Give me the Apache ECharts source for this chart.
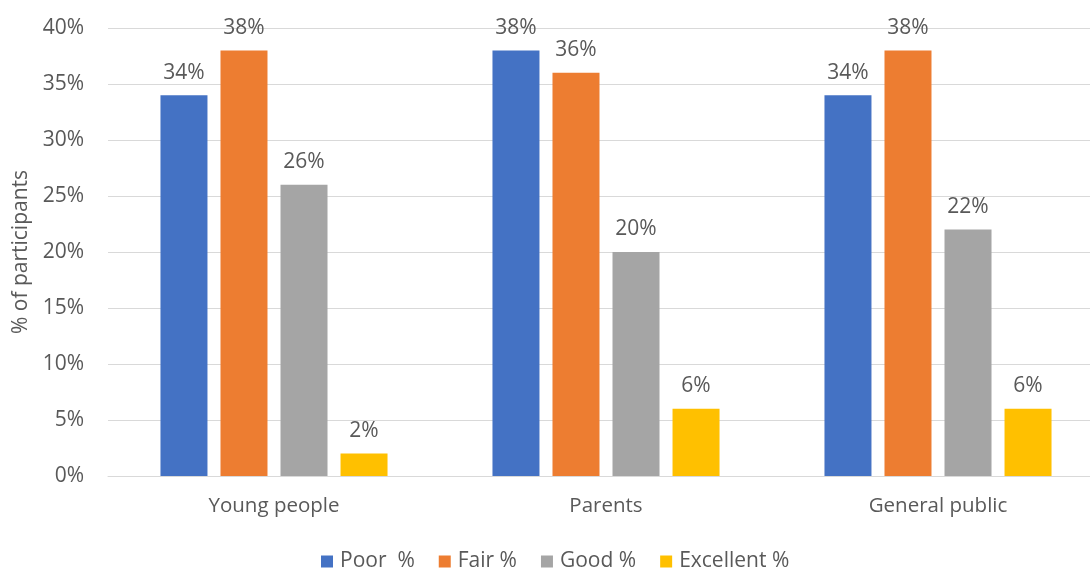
<!DOCTYPE html>
<html>
<head>
<meta charset="utf-8">
<script src="https://cdn.jsdelivr.net/npm/echarts@6/dist/echarts.min.js"></script>
<style>
  html, body { margin: 0; padding: 0; background: #fff; overflow: hidden; }
  /* the drawing surface is a little wider than the window, so the plot runs off the right edge */
  #chart { width: 1104px; height: 569px; }
</style>
</head>
<body>
<div id="chart"></div>
<script>
// Participant ratings by group
const categories = ['Young people', 'Parents', 'General public'];
const seriesNames = ['Poor  %', 'Fair %', 'Good %', 'Excellent %'];
const poor = [34, 38, 34];
const fair = [38, 36, 38];
const good = [26, 20, 22];
const excellent = [2, 6, 6];
const yTicks = [0, 5, 10, 15, 20, 25, 30, 35, 40];

const colors = ['#4472C4', '#ED7D31', '#A5A5A5', '#FFC000'];
const textColor = '#595959';
const fontFamily = '"Open Sans", "Liberation Sans", sans-serif';
const fontSize = 21;

const values = [poor, fair, good, excellent];

const chart = echarts.init(document.getElementById('chart'), null, { renderer: 'canvas' });

chart.setOption({
  animation: false,
  color: colors,
  textStyle: { fontFamily: fontFamily, color: textColor },
  grid: { left: 108, right: 0, top: 28, height: 448, containLabel: false },
  legend: {
    data: seriesNames,
    left: 321,
    top: 551,
    padding: 0,
    itemWidth: 12,
    itemHeight: 12,
    itemGap: 24,
    icon: 'rect',
    textStyle: { fontSize: 21, color: textColor, fontFamily: fontFamily, padding: [0, 0, 0, 2] }
  },
  xAxis: {
    type: 'category',
    data: categories,
    axisTick: { show: false },
    axisLine: { show: true, lineStyle: { color: '#D9D9D9', width: 1 } },
    axisLabel: { fontSize: 20.5, color: textColor, margin: 20, fontFamily: fontFamily }
  },
  yAxis: {
    type: 'value',
    min: yTicks[0],
    max: yTicks[yTicks.length - 1],
    interval: yTicks[1] - yTicks[0],
    name: '% of participants',
    nameLocation: 'middle',
    nameGap: 76,
    nameRotate: 90,
    nameTextStyle: { fontSize: fontSize, color: textColor, fontFamily: fontFamily },
    axisLine: { show: false },
    axisTick: { show: false },
    axisLabel: { fontSize: fontSize, color: textColor, margin: 24, formatter: '{value}%', fontFamily: fontFamily },
    splitLine: { lineStyle: { color: '#D9D9D9', width: 1 } }
  },
  series: seriesNames.map((name, i) => ({
    name: name,
    type: 'bar',
    data: values[i],
    barWidth: 47,
    barGap: '27.7%',
    itemStyle: { color: colors[i] },
    label: {
      show: true,
      position: 'top',
      distance: 12,
      formatter: '{c}%',
      fontSize: fontSize,
      color: textColor,
      fontFamily: fontFamily
    }
  }))
});
</script>
</body>
</html>
